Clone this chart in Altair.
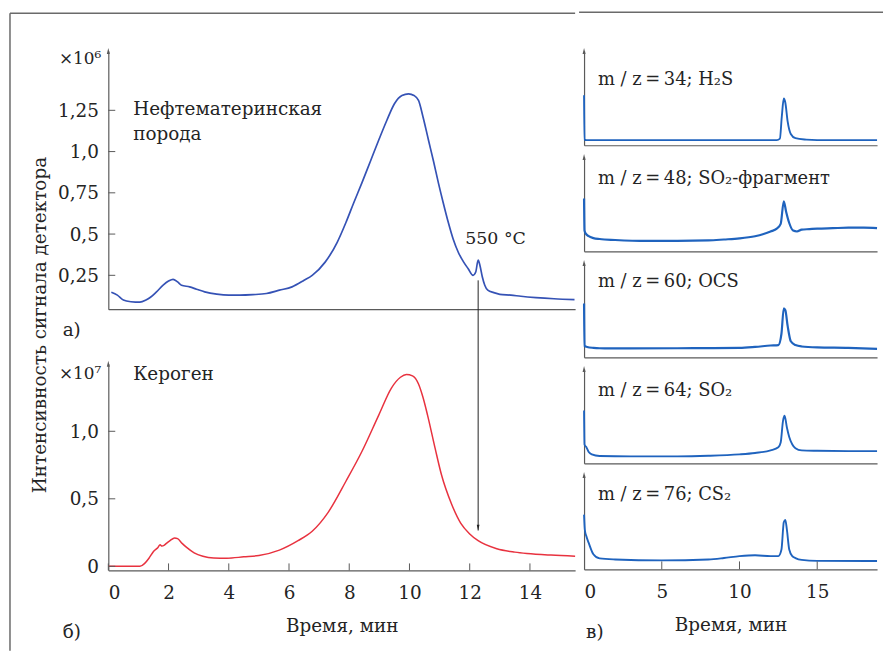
import altair as alt
import pandas as pd

# ---------------- data ----------------
# panel a) source rock (x1e6)
a_time = [0.1, 0.3, 0.5, 0.75, 1.05, 1.25, 1.4, 1.6, 1.82, 2.0, 2.15, 2.3, 2.43, 2.7, 2.93, 3.2, 3.6,
          4.0, 4.36, 4.8, 5.25, 5.68, 6.1, 6.5, 6.77, 7.2, 7.6, 7.89, 8.15, 8.42, 8.7, 8.98, 9.25,
          9.5, 9.75, 9.97, 10.15, 10.3, 10.45, 10.63, 10.8, 10.96, 11.12, 11.29, 11.45, 11.62, 11.8,
          11.95, 12.11, 12.2, 12.28, 12.34, 12.42, 12.5, 12.6, 12.8, 13.0, 13.37, 13.7, 14.2, 14.8, 15.48]
a_value = [0.147, 0.13, 0.10, 0.09, 0.087, 0.10, 0.117, 0.15, 0.19, 0.215, 0.226, 0.21, 0.19, 0.18,
           0.166, 0.15, 0.136, 0.13, 0.13, 0.133, 0.14, 0.16, 0.18, 0.22, 0.25, 0.33, 0.45, 0.57, 0.69,
           0.81, 0.94, 1.07, 1.19, 1.29, 1.34, 1.35, 1.34, 1.31, 1.21, 1.07, 0.94, 0.81, 0.69, 0.57,
           0.47, 0.39, 0.33, 0.29, 0.25, 0.27, 0.342, 0.31, 0.24, 0.19, 0.16, 0.145, 0.135, 0.13,
           0.123, 0.115, 0.108, 0.103]

# panel b) kerogen (x1e7)
b_time = [0.0, 0.5, 1.05, 1.2, 1.35, 1.5, 1.65, 1.72, 1.78, 1.85, 1.93, 2.05, 2.2, 2.3, 2.45, 2.6,
          2.85, 3.14, 3.5, 3.93, 4.5, 5.0, 5.68, 6.3, 6.77, 7.3, 7.89, 8.42, 8.98, 9.4, 9.7, 9.9,
          10.1, 10.3, 10.45, 10.6, 10.85, 11.06, 11.4, 11.7, 12.0, 12.28, 12.9, 13.5, 13.9, 14.7, 15.5]
b_value = [0.0, 0.0, 0.0, 0.02, 0.06, 0.11, 0.14, 0.16, 0.15, 0.155, 0.17, 0.19, 0.21, 0.205, 0.17,
           0.14, 0.10, 0.075, 0.062, 0.06, 0.07, 0.08, 0.12, 0.19, 0.26, 0.40, 0.63, 0.85, 1.12, 1.32,
           1.40, 1.42, 1.41, 1.35, 1.25, 1.12, 0.875, 0.68, 0.46, 0.32, 0.24, 0.19, 0.13, 0.105, 0.095,
           0.083, 0.075]

# panel c) mass channels (normalised)
ms_labels = ["m / z\u2009=\u200934; H₂S", "m / z\u2009=\u200948; SO₂-фрагмент", "m / z\u2009=\u200960; OCS",
             "m / z\u2009=\u200964; SO₂", "m / z\u2009=\u200976; CS₂"]
ms_time = [
    [0, 0.03, 0.15, 5, 10, 12.4, 12.6, 12.72, 12.85, 12.95, 13.1, 13.3, 13.6, 14.3, 15, 18.85],
    [0, 0.03, 0.1, 0.3, 0.6, 1, 2, 4, 6, 8, 9, 10, 11, 11.5, 12, 12.4, 12.65, 12.85, 13.0, 13.2,
     13.45, 13.7, 14.0, 14.5, 15, 16, 17, 18, 18.85],
    [0, 0.03, 0.2, 0.6, 1, 3, 6, 8, 10, 11, 12, 12.5, 12.7, 12.85, 12.95, 13.1, 13.3, 13.6, 14, 15,
     17, 18.85],
    [0, 0.03, 0.15, 0.3, 0.5, 1, 3, 6, 8, 10, 11, 12, 12.5, 12.65, 12.8, 12.9, 13.05, 13.2, 13.4,
     13.6, 14, 15, 17, 18.85],
    [0, 0.05, 0.15, 0.3, 0.6, 1, 2, 5, 8, 9, 10, 11, 12, 12.5, 12.7, 12.85, 12.95, 13.05, 13.2, 13.4,
     13.6, 14, 15, 18.85],
]
ms_value = [
    [0.53, 0.06, 0.055, 0.055, 0.055, 0.055, 0.07, 0.3, 0.495, 0.45, 0.25, 0.12, 0.075, 0.06, 0.055,
     0.055],
    [0.56, 0.22, 0.19, 0.16, 0.14, 0.13, 0.12, 0.11, 0.11, 0.115, 0.125, 0.137, 0.16, 0.18, 0.21,
     0.24, 0.29, 0.53, 0.42, 0.30, 0.22, 0.21, 0.23, 0.235, 0.24, 0.245, 0.25, 0.25, 0.245],
    [0.57, 0.12, 0.11, 0.10, 0.096, 0.095, 0.096, 0.098, 0.10, 0.11, 0.125, 0.13, 0.25, 0.52, 0.50,
     0.33, 0.17, 0.13, 0.115, 0.105, 0.10, 0.09],
    [0.56, 0.20, 0.17, 0.12, 0.095, 0.078, 0.074, 0.074, 0.08, 0.095, 0.11, 0.137, 0.17, 0.22, 0.45,
     0.505, 0.38, 0.28, 0.20, 0.16, 0.137, 0.133, 0.13, 0.13],
    [0.58, 0.42, 0.35, 0.28, 0.16, 0.116, 0.105, 0.095, 0.105, 0.12, 0.14, 0.15, 0.14, 0.14, 0.21,
     0.50, 0.525, 0.42, 0.21, 0.14, 0.12, 0.10, 0.09, 0.088],
]

a_yticks = [0.25, 0.5, 0.75, 1.0, 1.25]
b_yticks = [0, 0.5, 1.0]
b_xticks = [0, 2, 4, 6, 8, 10, 12, 14]
ms_xticks = [0, 5, 10, 15]
a_ydomain = [0.045, 1.61]
b_ydomain = [-0.03, 1.5]
lr_xdomain = [0, 15.5]
ms_xdomain = [0, 18.85]
ms_ydomain = [0, 1]
peak_time = 12.28          # 550 °C marker
arrow_tip_value = 0.265    # arrow head position on panel b
label_550 = (11.85, 0.47)

# ---------------- style ----------------
FONT = "DejaVu Serif"
FS = 18.5
TXT = "#242424"
AX = "#5a5a5a"
FRAME = "#6a6a6a"
BLUE_A = "#3552b5"
BLUE_MS = "#1f63be"
RED = "#e8323f"
LBL = "datum.value == 1 ? '1,0' : replace(format(datum.value, '.2~f'), '.', ',')"
ARROW_UP = "M0,-1L0.5,1L-0.5,1Z"
ARROW_DOWN = "M0,1L0.5,-1L-0.5,-1Z"

one = pd.DataFrame({"k": [0]})


def txt(**kw):
    base = dict(font=FONT, fontSize=FS, color=TXT)
    base.update(kw)
    return alt.Chart(one).mark_text(**base)


# ---------------- panel a ----------------
W_L, H_A, H_B = 470, 260, 208
df_a = pd.DataFrame({"t": a_time, "v": a_value})
line_a = alt.Chart(df_a).mark_line(color=BLUE_A, strokeWidth=1.7, interpolate="monotone").encode(
    x=alt.X("t:Q", scale=alt.Scale(domain=lr_xdomain, nice=False, zero=False),
            axis=alt.Axis(title=None, labels=False, ticks=False)),
    y=alt.Y("v:Q", scale=alt.Scale(domain=a_ydomain, nice=False, zero=False),
            axis=alt.Axis(title=None, values=a_yticks, ticks=False, labelExpr=LBL, labelPadding=10)),
)
ticks_a = alt.Chart(pd.DataFrame({"v": a_yticks})).mark_rule(color=AX).encode(
    y="v:Q", x=alt.value(0), x2=alt.value(7))
yarrow_a = alt.Chart(one).mark_point(shape=ARROW_UP, filled=True, color=AX, size=36, opacity=1).encode(
    x=alt.datum(lr_xdomain[0]), y=alt.datum(a_ydomain[1]))
texts_a = [
    txt(align="right", baseline="middle", fontSize=17).encode(
        x=alt.value(-7), y=alt.value(8), text=alt.value("×10⁶")),
    txt(align="left", baseline="alphabetic", lineBreak="\n", lineHeight=25).encode(
        x=alt.value(25), y=alt.value(65), text=alt.value("Нефтематеринская\nпорода")),
    txt(align="left", baseline="middle", fontSize=17.5).encode(
        x=alt.datum(label_550[0]), y=alt.datum(label_550[1]), text=alt.value("550 °C")),
    txt(align="left", baseline="middle").encode(x=alt.value(-46), y=alt.value(281), text=alt.value("а)")),
    txt(align="center", baseline="middle", angle=270).encode(
        x=alt.value(-69), y=alt.value(276), text=alt.value("Интенсивность сигнала детектора")),
]
frame_a = [
    alt.Chart(one).mark_rule(color=FRAME, strokeWidth=1.5).encode(
        x=alt.value(-99), y=alt.value(-38), y2=alt.value(604)),
    alt.Chart(one).mark_rule(color=FRAME, strokeWidth=1.5).encode(
        x=alt.value(-99), x2=alt.value(W_L), y=alt.value(-38)),
]
panel_a = alt.layer(line_a, ticks_a, yarrow_a, *texts_a, *frame_a).properties(width=W_L, height=H_A)

# ---------------- panel b ----------------
df_b = pd.DataFrame({"t": b_time, "v": b_value})
line_b = alt.Chart(df_b).mark_line(color=RED, strokeWidth=1.5, interpolate="monotone").encode(
    x=alt.X("t:Q", scale=alt.Scale(domain=lr_xdomain, nice=False, zero=False),
            axis=alt.Axis(title="Время, мин", values=b_xticks, ticks=False, labelPadding=13,
                          titlePadding=15)),
    y=alt.Y("v:Q", scale=alt.Scale(domain=b_ydomain, nice=False, zero=False),
            axis=alt.Axis(title=None, values=b_yticks, ticks=False, labelExpr=LBL, labelPadding=10)),
)
yticks_b = alt.Chart(pd.DataFrame({"v": b_yticks})).mark_rule(color=AX).encode(
    y="v:Q", x=alt.value(0), x2=alt.value(7))
xticks_b = alt.Chart(pd.DataFrame({"t": b_xticks})).mark_rule(color=AX).encode(
    x="t:Q", y=alt.value(H_B), y2=alt.value(H_B - 7))
yarrow_b = alt.Chart(one).mark_point(shape=ARROW_UP, filled=True, color=AX, size=36, opacity=1).encode(
    x=alt.datum(lr_xdomain[0]), y=alt.datum(b_ydomain[1]))
arrow_line = alt.Chart(one).mark_rule(color="#222", strokeWidth=1).encode(
    x=alt.datum(peak_time), y=alt.datum(arrow_tip_value), y2=alt.value(-84))
arrow_head = alt.Chart(one).mark_point(shape=ARROW_DOWN, filled=True, color="#222", size=30,
                                       opacity=1, yOffset=-3).encode(
    x=alt.datum(peak_time), y=alt.datum(arrow_tip_value))
texts_b = [
    txt(align="right", baseline="middle", fontSize=17).encode(
        x=alt.value(-7), y=alt.value(10), text=alt.value("×10⁷")),
    txt(align="left", baseline="middle").encode(x=alt.value(25), y=alt.value(10), text=alt.value("Кероген")),
    txt(align="left", baseline="middle").encode(x=alt.value(-46), y=alt.value(270), text=alt.value("б)")),
]
panel_b = alt.layer(line_b, yticks_b, xticks_b, yarrow_b, arrow_line, arrow_head, *texts_b).properties(
    width=W_L, height=H_B)

left = alt.vconcat(panel_a, panel_b, spacing=55, bounds="flush")

# ---------------- panel c ----------------
W_S, H_S = 295, 95
label_dy = [29, 22, 19, 22, 20]


def ms_panel(i):
    last = i == len(ms_labels) - 1
    df = pd.DataFrame({"t": ms_time[i], "v": ms_value[i]})
    xaxis = alt.Axis(title="Время, мин" if last else None, labels=last, values=ms_xticks, ticks=False,
                     labelPadding=13, titlePadding=15)
    line = alt.Chart(df).mark_line(color=BLUE_MS, strokeWidth=2.2 if i in (1, 2) else 1.9,
                                   interpolate="monotone").encode(
        x=alt.X("t:Q", scale=alt.Scale(domain=ms_xdomain, nice=False, zero=False), axis=xaxis),
        y=alt.Y("v:Q", scale=alt.Scale(domain=ms_ydomain, nice=False, zero=False),
                axis=alt.Axis(title=None, labels=False, ticks=False)),
    )
    yarrow = alt.Chart(one).mark_point(shape=ARROW_UP, filled=True, color=AX, size=36, opacity=1).encode(
        x=alt.datum(ms_xdomain[0]), y=alt.datum(ms_ydomain[1]))
    lab = txt(align="left", baseline="middle", fontSize=18).encode(
        x=alt.value(14), y=alt.value(label_dy[i]), text=alt.value(ms_labels[i]))
    layers = [line, yarrow, lab]
    if i == 0:
        layers.append(alt.Chart(one).mark_rule(color=FRAME, strokeWidth=1.5).encode(
            x=alt.value(-5), x2=alt.value(W_S + 6), y=alt.value(-39)))
    if last:
        layers.append(alt.Chart(pd.DataFrame({"t": ms_xticks[1:]})).mark_rule(color=AX).encode(
            x="t:Q", y=alt.value(H_S), y2=alt.value(H_S - 8)))
        layers.append(txt(align="left", baseline="middle").encode(
            x=alt.value(2), y=alt.value(158), text=alt.value("в)")))
    return alt.layer(*layers).properties(width=W_S, height=H_S)


right = alt.vconcat(*[ms_panel(i) for i in range(len(ms_labels))], spacing=11.75, bounds="flush")

chart = alt.hconcat(left, right, spacing=0).properties(
    padding={"left": 1, "top": 1, "right": 0, "bottom": 0}, background="white"
).configure_view(stroke=None).configure_axis(
    grid=False, domainColor=AX, domainWidth=1.2, labelFont=FONT, labelFontSize=FS, labelColor=TXT,
    titleFont=FONT, titleFontSize=FS, titleFontWeight="normal", titleColor=TXT,
)

chart.save("out.html", embed_options={"renderer": "svg", "actions": False})
